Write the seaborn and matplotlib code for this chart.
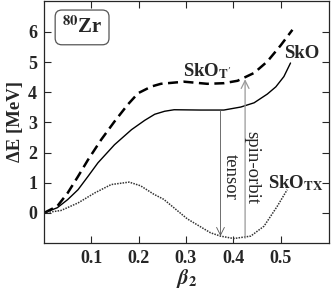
import numpy as np
import pandas as pd
import matplotlib
matplotlib.use('Agg')
import matplotlib.pyplot as plt
import seaborn as sns

# SkO (solid)
beta_sko = [0, 0.028, 0.050, 0.072, 0.093, 0.114, 0.149, 0.185, 0.213, 0.234, 0.255, 0.275, 0.331,
            0.380, 0.416, 0.444, 0.472, 0.490, 0.507, 0.521]
E_sko = [0, 0.17, 0.44, 0.77, 1.21, 1.66, 2.26, 2.76, 3.07, 3.27, 3.37, 3.42, 3.41,
         3.41, 3.51, 3.65, 3.94, 4.18, 4.52, 4.97]

# SkO_T' (dashed)
beta_t = [0, 0.028, 0.050, 0.072, 0.093, 0.121, 0.149, 0.177, 0.199, 0.227, 0.247, 0.296, 0.345,
          0.380, 0.409, 0.444, 0.472, 0.500, 0.525]
E_t = [0, 0.22, 0.66, 1.21, 1.76, 2.43, 3.03, 3.59, 3.97, 4.19, 4.28, 4.35, 4.28,
       4.30, 4.38, 4.64, 5.02, 5.55, 6.07]

# SkO_TX (dotted)
beta_tx = [0, 0.036, 0.072, 0.107, 0.142, 0.180, 0.204, 0.232, 0.253, 0.303, 0.352, 0.373,
           0.401, 0.437, 0.465, 0.493, 0.514]
E_tx = [0, 0.08, 0.33, 0.66, 0.94, 1.02, 0.90, 0.62, 0.45, -0.20, -0.66, -0.77,
        -0.85, -0.77, -0.44, 0.22, 0.77]

# arrows: (beta, start E, end E)
tensor_arrow = (0.373, 3.41, -0.77)
so_arrow = (0.425, -0.84, 4.43)

sns.set_style('ticks')
plt.rcParams['font.family'] = ['Liberation Serif', 'DejaVu Serif']
plt.rcParams['mathtext.fontset'] = 'stix'

fig = plt.figure(figsize=(3.32, 2.89), dpi=100)
ax = fig.add_axes([0.1325, 0.159, 0.858, 0.838])

sns.lineplot(x=beta_sko, y=E_sko, ax=ax, color='black', lw=1.0)
sns.lineplot(x=beta_t, y=E_t, ax=ax, color='black', lw=1.8)
ax.lines[-1].set_dashes([4, 2.2])
sns.lineplot(x=beta_tx, y=E_tx, ax=ax, color='#333333', lw=1.1)
ax.lines[-1].set_linestyle((0, (1, 0.8)))

ax.annotate('', xy=(tensor_arrow[0], tensor_arrow[2]), xytext=(tensor_arrow[0], tensor_arrow[1]),
            arrowprops=dict(arrowstyle='->', color='#555555', lw=0.6, mutation_scale=14, shrinkA=0, shrinkB=0))
ax.annotate('', xy=(so_arrow[0], so_arrow[2]), xytext=(so_arrow[0], so_arrow[1]),
            arrowprops=dict(arrowstyle='->', color='#999999', lw=0.9, mutation_scale=14, shrinkA=0, shrinkB=0))

ax.text(0.393, 1.2, 'tensor', rotation=270, ha='center', va='center', fontsize=13.5)
ax.text(0.439, 1.5, 'spin-orbit', rotation=270, ha='center', va='center', fontsize=13.5)

ax.text(0.345, 4.7, r"SkO$_{\mathbf{T'}}$", fontsize=13.5, fontweight='bold', ha='center', va='center')
ax.text(0.544, 5.3, 'SkO', fontsize=13.5, fontweight='bold', ha='center', va='center')
ax.text(0.532, 0.98, r'SkO$_{\mathbf{TX}}$', fontsize=13.5, fontweight='bold', ha='center', va='center')
ax.text(0.0805, 6.15, r'$^{\mathbf{80}}$Zr', fontsize=15, fontweight='bold', ha='center', va='center',
        bbox=dict(boxstyle='round,pad=0.32', fc='white', ec='#555555', lw=0.9))

ax.set_xlim(0, 0.602)
ax.set_ylim(-1, 7.03)
ax.set_xticks([0.1, 0.2, 0.3, 0.4, 0.5])
ax.set_yticks([0, 1, 2, 3, 4, 5, 6])
ax.set_xticklabels(['0.1', '0.2', '0.3', '0.4', '0.5'], fontweight='bold', fontsize=13)
ax.set_yticklabels(['0', '1', '2', '3', '4', '5', '6'], fontweight='bold', fontsize=13)
ax.tick_params(direction='in', top=True, right=True, length=5, width=0.8, pad=5)
for s in ax.spines.values():
    s.set_linewidth(0.9)

ax.set_xlabel(r'$\boldsymbol{\beta}_{\mathbf{2}}$', fontsize=15, labelpad=0)
ax.set_ylabel('ΔE [MeV]', fontsize=13.5, fontweight='bold', labelpad=3)

fig.savefig('out.png', dpi=100)
